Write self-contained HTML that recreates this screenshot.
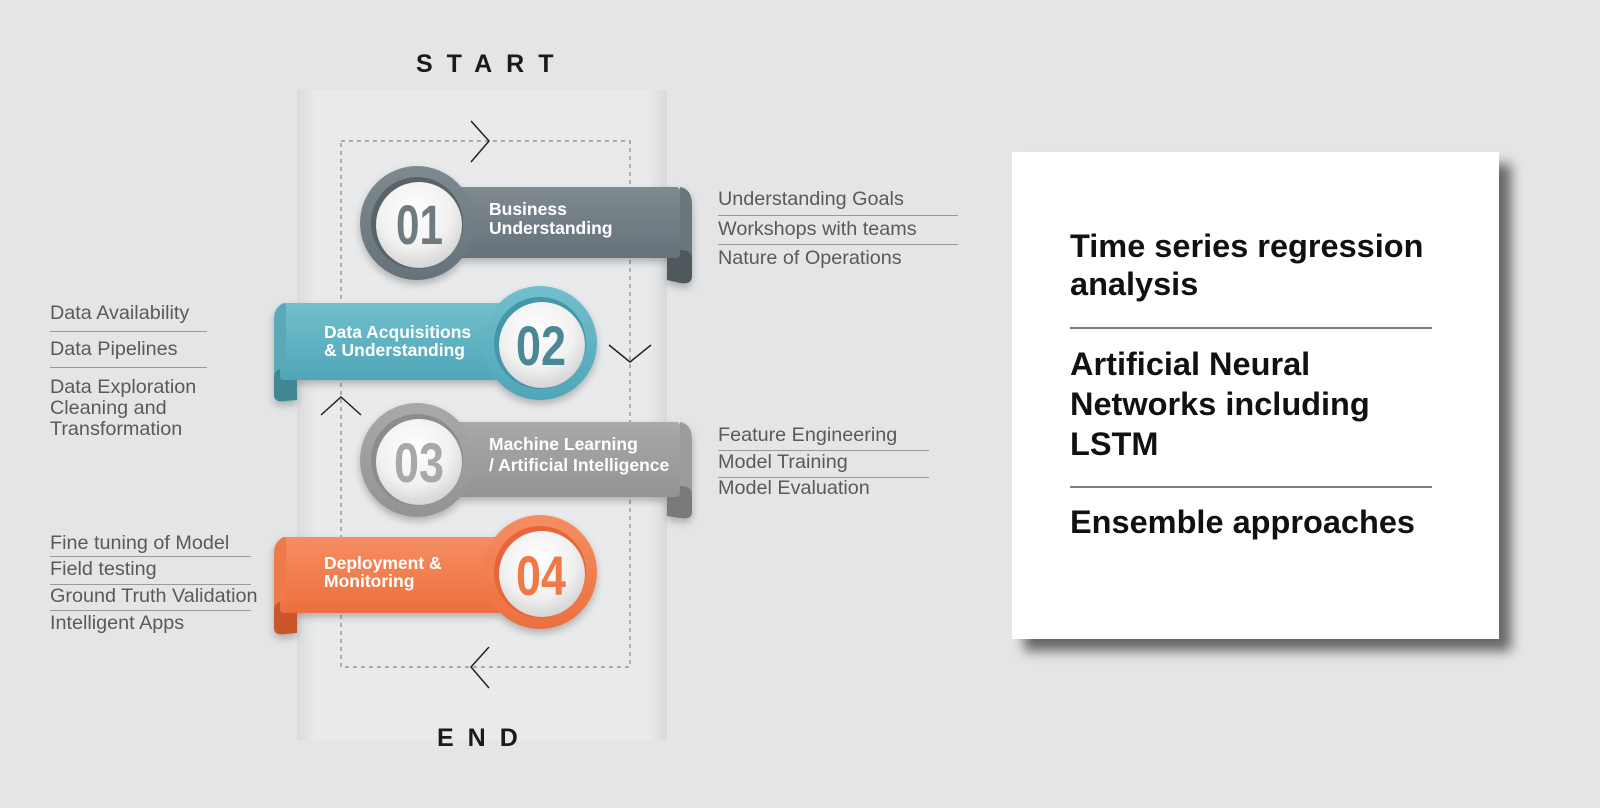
<!DOCTYPE html>
<html><head><meta charset="utf-8"><style>
html,body{margin:0;padding:0;width:1600px;height:808px;overflow:hidden;background:#e4e5e7;font-family:"Liberation Sans",sans-serif}
</style></head><body>
<svg width="1600" height="808" viewBox="0 0 1600 808" xmlns="http://www.w3.org/2000/svg" font-family="Liberation Sans, sans-serif">
<defs>
<linearGradient id="panel" x1="0" x2="1"><stop offset="0" stop-color="#dadbdd"/><stop offset="0.05" stop-color="#e9eaec"/><stop offset="0.95" stop-color="#e9eaec"/><stop offset="1" stop-color="#d8d9db"/></linearGradient>
<radialGradient id="white" cx="0.45" cy="0.35" r="0.7"><stop offset="0" stop-color="#ffffff"/><stop offset="0.6" stop-color="#f1f1f1"/><stop offset="1" stop-color="#cfcfcf"/></radialGradient>
<linearGradient id="g1" x1="0" y1="0" x2="0" y2="1"><stop offset="0" stop-color="#7e8a8f"/><stop offset="1" stop-color="#66727a"/></linearGradient>
<linearGradient id="g2" x1="0" y1="0" x2="0" y2="1"><stop offset="0" stop-color="#72bfcd"/><stop offset="1" stop-color="#4fa6b7"/></linearGradient>
<linearGradient id="g3" x1="0" y1="0" x2="0" y2="1"><stop offset="0" stop-color="#a9a9a9"/><stop offset="1" stop-color="#939393"/></linearGradient>
<linearGradient id="g4" x1="0" y1="0" x2="0" y2="1"><stop offset="0" stop-color="#f58e62"/><stop offset="1" stop-color="#ec6f3e"/></linearGradient>
<filter id="sh" x="-10%" y="-10%" width="130%" height="130%"><feGaussianBlur stdDeviation="6"/></filter>
<filter id="rs" x="-20%" y="-20%" width="140%" height="140%"><feDropShadow dx="0" dy="4" stdDeviation="4" flood-color="#000" flood-opacity="0.25"/></filter>
</defs>

<rect x="297" y="90" width="370" height="650" fill="url(#panel)"/>

<rect x="341" y="141" width="289" height="526" fill="none" stroke="#888" stroke-width="1.2" stroke-dasharray="4,4"/>
<g fill="none" stroke="#222" stroke-width="1.5">
<polyline points="471,121 489,141 471,162"/>
<polyline points="609,345 630,362 651,345"/>
<polyline points="321,415 341,397 361,415"/>
<polyline points="489,647 471,667 489,688"/>
</g>

<text x="416" y="72" font-size="25" font-weight="bold" letter-spacing="14" fill="#1a1a1a">START</text>
<text x="437" y="746" font-size="25" font-weight="bold" letter-spacing="14" fill="#1a1a1a">END</text>

<!-- Ribbon 01 -->
<g filter="url(#rs)">
<path d="M667,245 H680 Q692,245 692,258 V276 Q692,285 680,283 L667,280 Z" fill="#4f585d"/>
<rect x="440" y="187" width="240" height="71" rx="4" fill="url(#g1)"/>
<path d="M680,187 Q692,189 692,205 V258 Q692,250 680,250 Z" fill="#6a767c"/>
<circle cx="417" cy="223" r="57" fill="url(#g1)"/>
</g>
<circle cx="417" cy="223" r="46" fill="#58646a"/>
<circle cx="419" cy="225" r="43" fill="url(#white)"/>
<text x="396" y="244" font-size="56" font-weight="bold" fill="#6f7b80" textLength="47" lengthAdjust="spacingAndGlyphs">01</text>
<text x="489" y="215" font-size="17.5" font-weight="bold" fill="#fff">Business</text>
<text x="489" y="234" font-size="17.5" font-weight="bold" fill="#fff">Understanding</text>

<!-- Ribbon 02 -->
<g filter="url(#rs)">
<path d="M297,365 H286 Q274,365 274,378 V395 Q274,403 286,401 L297,400 Z" fill="#3f8795"/>
<rect x="280" y="303" width="260" height="77" rx="4" fill="url(#g2)"/>
<path d="M286,303 Q274,305 274,320 V378 Q274,368 286,368 Z" fill="#5aa9b9"/>
<circle cx="540" cy="343" r="57" fill="url(#g2)"/>
</g>
<circle cx="540" cy="343" r="46" fill="#4597a8"/>
<circle cx="542" cy="345" r="43" fill="url(#white)"/>
<text x="516" y="365" font-size="56" font-weight="bold" fill="#4b8896" textLength="50" lengthAdjust="spacingAndGlyphs">02</text>
<text x="324" y="338" font-size="17.5" font-weight="bold" fill="#fff">Data Acquisitions</text>
<text x="324" y="356" font-size="17.5" font-weight="bold" fill="#fff">&amp; Understanding</text>

<!-- Ribbon 03 -->
<g filter="url(#rs)">
<path d="M667,482 H680 Q692,482 692,495 V512 Q692,520 680,518 L667,516 Z" fill="#7a7a7a"/>
<rect x="440" y="422" width="240" height="75" rx="4" fill="url(#g3)"/>
<path d="M680,422 Q692,424 692,440 V495 Q692,486 680,486 Z" fill="#9c9c9c"/>
<circle cx="417" cy="460" r="57" fill="url(#g3)"/>
</g>
<circle cx="417" cy="460" r="46" fill="#8c8c8c"/>
<circle cx="419" cy="462" r="43" fill="url(#white)"/>
<text x="394" y="482" font-size="56" font-weight="bold" fill="#a8a8a8" textLength="50" lengthAdjust="spacingAndGlyphs">03</text>
<text x="489" y="450" font-size="17.5" font-weight="bold" fill="#fff">Machine Learning</text>
<text x="489" y="471" font-size="17.5" font-weight="bold" fill="#fff">/ Artificial Intelligence</text>

<!-- Ribbon 04 -->
<g filter="url(#rs)">
<path d="M297,598 H286 Q274,598 274,611 V628 Q274,636 286,634 L297,633 Z" fill="#c9552a"/>
<rect x="280" y="537" width="260" height="76" rx="4" fill="url(#g4)"/>
<path d="M286,537 Q274,539 274,554 V611 Q274,601 286,601 Z" fill="#ef7a48"/>
<circle cx="540" cy="572" r="57" fill="url(#g4)"/>
</g>
<circle cx="540" cy="572" r="46" fill="#e8653a"/>
<circle cx="542" cy="574" r="43" fill="url(#white)"/>
<text x="516" y="595" font-size="56" font-weight="bold" fill="#f07a45" textLength="50" lengthAdjust="spacingAndGlyphs">04</text>
<text x="324" y="569" font-size="17.5" font-weight="bold" fill="#fff">Deployment &amp;</text>
<text x="324" y="587" font-size="17.5" font-weight="bold" fill="#fff">Monitoring</text>

<g font-size="19.8" fill="#5a5a5a">
<text x="718" y="205">Understanding Goals</text>
<text x="718" y="235">Workshops with teams</text>
<text x="718" y="264">Nature of Operations</text>
<text x="718" y="441">Feature Engineering</text>
<text x="718" y="468">Model Training</text>
<text x="718" y="494">Model Evaluation</text>
<text x="50" y="319">Data Availability</text>
<text x="50" y="355">Data Pipelines</text>
<text x="50" y="393">Data Exploration</text>
<text x="50" y="414">Cleaning and</text>
<text x="50" y="435">Transformation</text>
<text x="50" y="549">Fine tuning of Model</text>
<text x="50" y="575">Field testing</text>
<text x="50" y="602">Ground Truth Validation</text>
<text x="50" y="629">Intelligent Apps</text>
</g>
<g stroke="#9a9a9a" stroke-width="1">
<line x1="718" y1="215.5" x2="958" y2="215.5"/>
<line x1="718" y1="244.5" x2="958" y2="244.5"/>
<line x1="718" y1="450.5" x2="929" y2="450.5"/>
<line x1="718" y1="477.5" x2="929" y2="477.5"/>
<line x1="50" y1="331.5" x2="207" y2="331.5"/>
<line x1="50" y1="367.5" x2="207" y2="367.5"/>
<line x1="50" y1="556.5" x2="251" y2="556.5"/>
<line x1="50" y1="584.5" x2="251" y2="584.5"/>
<line x1="50" y1="610.5" x2="251" y2="610.5"/>
</g>

<rect x="1024" y="164" width="487" height="487" fill="#000" opacity="0.55" filter="url(#sh)"/>
<rect x="1012" y="152" width="487" height="487" fill="#fff"/>
<g font-size="32.5" font-weight="bold" fill="#111">
<text x="1070" y="257">Time series regression</text>
<text x="1070" y="295">analysis</text>
<text x="1070" y="375">Artificial Neural</text>
<text x="1070" y="415">Networks including</text>
<text x="1070" y="455">LSTM</text>
<text x="1070" y="533">Ensemble approaches</text>
</g>
<line x1="1070" y1="328" x2="1432" y2="328" stroke="#333" stroke-width="1.3"/>
<line x1="1070" y1="487" x2="1432" y2="487" stroke="#333" stroke-width="1.3"/>
</svg>
</body></html>
